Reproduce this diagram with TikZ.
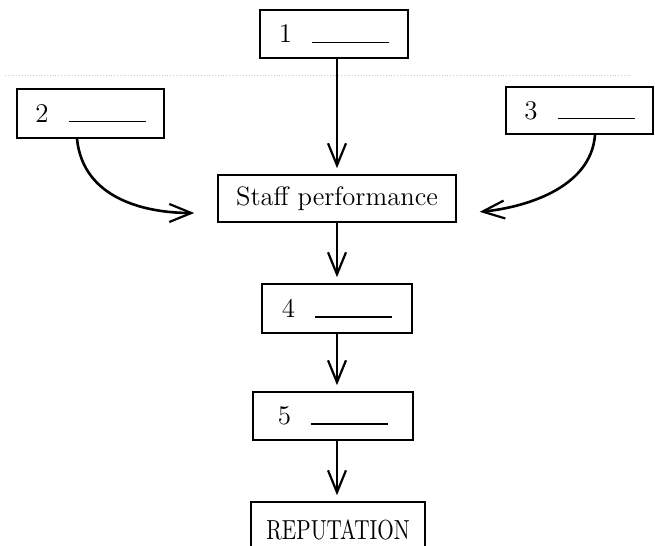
\documentclass[tikz,border=0pt]{standalone}
\usepackage{fontspec}
\setmainfont{Latin Modern Roman}
\usetikzlibrary{arrows.meta}
\newcommand\gapline{\hspace{10pt}\rule{38.5pt}{0.7pt}}
\begin{document}
\begin{tikzpicture}[x=0.5pt,y=-0.5pt,
  box/.style={draw, line width=0.8pt, inner sep=0pt, font=\fontsize{13.5}{15}\selectfont},
  arr/.style={line width=1.3pt, -{Straight Barb[length=11pt,width=9pt,line width=1.1pt]}, shorten >=3pt},
  carr/.style={arr, shorten >=11.5pt}]
\useasboundingbox (0,0) rectangle (655,546);
\clip (0,0) rectangle (655,546);
\draw[gray!40, densely dotted, line width=0.4pt] (5,75) -- (630,75);
\node[box, minimum width=74pt, minimum height=24pt] (b1) at (334,34) {1\gapline};
\node[box, minimum width=73.5pt, minimum height=24.5pt] (b2) at (90.5,113.5) {2\gapline};
\node[box, minimum width=73.5pt, minimum height=23.5pt] (b3) at (579.5,110.5) {3\gapline};
\node[box, minimum width=119pt, minimum height=23.5pt, font=\fontsize{13.3}{15}\selectfont] (sp) at (337,198.5) {Staff performance};
\node[box, minimum width=75pt, minimum height=24.5pt] (b4) at (337,308.5) {4\gapline};
\node[box, minimum width=80pt, minimum height=24pt] (b5) at (333,416) {5\gapline};
\node[box, minimum width=87pt, minimum height=29pt, font=\fontsize{10.6}{12}\selectfont] (rep) at (338,531) {\raisebox{1.6pt}{\scalebox{1}[1.3]{REPUTATION}}};
\draw[arr] (b1.south -| sp.north) -- (sp.north);
\draw[arr] (sp.south) -- (sp.south |- b4.north);
\draw[arr] (b4.south) -- (b4.south |- b5.north);
\draw[arr] (b5.south -| b4.south) -- (b4.south |- rep.north);
\draw[carr] ([xshift=-6.75pt]b2.south) .. controls +(6,60) and +(-72,0) .. ([yshift=-7.25pt]sp.west);
\draw[carr] ([xshift=7.75pt]b3.south) .. controls +(-4,55) and +(64,-6) .. ([yshift=-7.75pt]sp.east);
\end{tikzpicture}
\end{document}
